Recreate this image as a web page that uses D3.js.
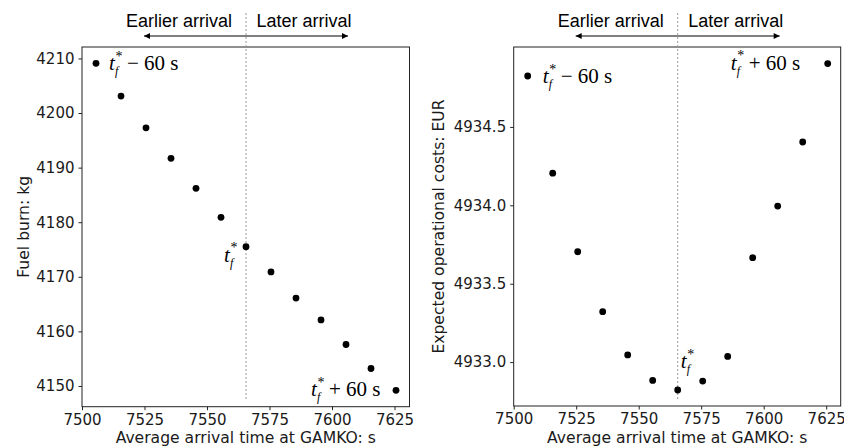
<!DOCTYPE html>
<html>
<head>
<meta charset="utf-8">
<script src="https://cdn.jsdelivr.net/npm/d3@7"></script>
<style>
  html, body { margin: 0; padding: 0; background: #fff; }
  svg { display: block; }
</style>
</head>
<body>
<svg id="chart" width="844" height="447"></svg>
<script>
// Average arrival time at GAMKO (s) for each shifted target time
const arrivalTimes = [7505.6, 7515.6, 7525.6, 7535.6, 7545.6, 7555.6, 7565.6,
                      7575.6, 7585.6, 7595.6, 7605.6, 7615.6, 7625.6];
// Fuel burn (kg)
const fuelBurn = [4209.1, 4203.1, 4197.3, 4191.7, 4186.2, 4180.9, 4175.5,
                  4170.9, 4166.1, 4162.1, 4157.6, 4153.2, 4149.2];
// Expected operational costs (EUR)
const opCosts = [4934.825, 4934.205, 4933.704, 4933.322, 4933.046, 4932.883, 4932.822,
                 4932.879, 4933.036, 4933.666, 4933.995, 4934.404, 4934.904];
const tfStar = 7565.6;

const xTicks = [7500, 7525, 7550, 7575, 7600, 7625];
const fuelTicks = [4150, 4160, 4170, 4180, 4190, 4200, 4210];
const costTicks = [4933.0, 4933.5, 4934.0, 4934.5];

const svg = d3.select("#chart");
const sansFont = "DejaVu Sans, sans-serif";
const mathFont = "Liberation Serif, serif";
const annFont = "Liberation Sans, Arial, sans-serif";

// arrowhead marker
const defs = svg.append("defs");
defs.append("marker")
  .attr("id", "arrowhead")
  .attr("viewBox", "0 0 10 10")
  .attr("refX", 10).attr("refY", 5)
  .attr("markerWidth", 7).attr("markerHeight", 6)
  .attr("markerUnits", "userSpaceOnUse")
  .attr("orient", "auto-start-reverse")
  .append("path").attr("d", "M0,0 L10,5 L0,10 z").attr("fill", "#000");

// math-style label: t with subscript f and superscript *, then optional text
function mathLabel(g, x, y, rest) {
  const base = g.append("g").attr("font-family", mathFont).attr("fill", "#000");
  base.append("text").attr("x", x).attr("y", y)
    .attr("font-size", 21).attr("font-style", "italic").text("t");
  base.append("text").attr("x", x + 6.5).attr("y", y - 9.5)
    .attr("font-size", 14).text("*");
  base.append("text").attr("x", x + 6).attr("y", y + 5)
    .attr("font-size", 12).attr("font-style", "italic").text("f");
  if (rest) {
    base.append("text").attr("x", x + 18).attr("y", y)
      .attr("font-size", 21).attr("xml:space", "preserve")
      .style("white-space", "pre").text(rest);
  }
}

function panel(cfg) {
  const g = svg.append("g");
  const x = d3.scaleLinear().domain(cfg.xDomain).range([cfg.left, cfg.right]);
  const y = d3.scaleLinear().domain(cfg.yDomain).range([cfg.bottom, cfg.top]);

  // axes
  const xAxis = d3.axisBottom(x).tickValues(xTicks).tickFormat(d3.format("d"))
    .tickSizeInner(3.5).tickSizeOuter(0).tickPadding(4);
  const yAxis = d3.axisLeft(y).tickValues(cfg.yTicks).tickFormat(cfg.yFormat)
    .tickSizeInner(3.5).tickSizeOuter(0).tickPadding(4);

  const gx = g.append("g").attr("transform", `translate(0,${cfg.bottom})`).call(xAxis);
  const gy = g.append("g").attr("transform", `translate(${cfg.left},0)`).call(yAxis);
  [gx, gy].forEach(a => {
    a.select(".domain").remove();
    a.selectAll("text").attr("font-family", sansFont).attr("font-size", 15).attr("fill", "#1a1a1a");
    a.selectAll("line").attr("stroke", "#222");
  });

  // frame
  g.append("rect")
    .attr("x", cfg.left).attr("y", cfg.top)
    .attr("width", cfg.right - cfg.left).attr("height", cfg.bottom - cfg.top)
    .attr("fill", "none").attr("stroke", "#222").attr("stroke-width", 1);

  // reference line at t_f*
  const xs = x(tfStar);
  g.append("line")
    .attr("x1", xs).attr("x2", xs).attr("y1", 13).attr("y2", cfg.bottom - 6)
    .attr("stroke", "#999").attr("stroke-width", 1).attr("stroke-dasharray", "2,2");

  // direction arrows
  g.append("line")
    .attr("x1", xs).attr("x2", xs - 102).attr("y1", 36).attr("y2", 36)
    .attr("stroke", "#000").attr("stroke-width", 1).attr("marker-end", "url(#arrowhead)");
  g.append("line")
    .attr("x1", xs).attr("x2", xs + 102).attr("y1", 36).attr("y2", 36)
    .attr("stroke", "#000").attr("stroke-width", 1).attr("marker-end", "url(#arrowhead)");
  g.append("text").attr("x", xs - 67).attr("y", 27)
    .attr("text-anchor", "middle").attr("font-family", annFont)
    .attr("font-size", 18).attr("fill", "#000").text("Earlier arrival");
  g.append("text").attr("x", xs + 58).attr("y", 27)
    .attr("text-anchor", "middle").attr("font-family", annFont)
    .attr("font-size", 18).attr("fill", "#000").text("Later arrival");

  // points
  g.selectAll("circle.pt")
    .data(arrivalTimes.map((t, i) => ({ t, v: cfg.values[i] })))
    .enter().append("circle").attr("class", "pt")
    .attr("cx", d => x(d.t)).attr("cy", d => y(d.v)).attr("r", 3.4)
    .attr("fill", "#000");

  // axis titles
  g.append("text")
    .attr("x", (cfg.left + cfg.right) / 2).attr("y", 443)
    .attr("text-anchor", "middle").attr("font-family", sansFont)
    .attr("font-size", 15.6).attr("fill", "#1a1a1a")
    .text("Average arrival time at GAMKO: s");
  g.append("text")
    .attr("transform", `translate(${cfg.yLabelX},${(cfg.top + cfg.bottom) / 2}) rotate(-90)`)
    .attr("text-anchor", "middle").attr("font-family", sansFont)
    .attr("font-size", 15.6).attr("fill", "#1a1a1a")
    .text(cfg.yLabel);

  return { g, x, y };
}

// Left: fuel burn
const L = panel({
  left: 82, right: 409.5, top: 47, bottom: 406.7,
  xDomain: [7500, 7631], yDomain: [4146.2, 4212.1],
  yTicks: fuelTicks, yFormat: d3.format("d"),
  values: fuelBurn, yLabel: "Fuel burn: kg", yLabelX: 29
});
{
  const n = arrivalTimes.length - 1;
  mathLabel(L.g, L.x(arrivalTimes[0]) + 13, L.y(fuelBurn[0]) + 7, "\u2212 60 s");
  mathLabel(L.g, L.x(arrivalTimes[6]) - 22, L.y(fuelBurn[6]) + 15, null);
  mathLabel(L.g, L.x(arrivalTimes[n]) - 85, L.y(fuelBurn[n]) + 6, "+ 60 s");
}

// Right: expected operational costs
const R = panel({
  left: 513.7, right: 840.7, top: 47, bottom: 406,
  xDomain: [7500, 7630.8], yDomain: [4932.72, 4935.01],
  yTicks: costTicks, yFormat: d3.format(".1f"),
  values: opCosts, yLabel: "Expected operational costs: EUR", yLabelX: 444
});
{
  const n = arrivalTimes.length - 1;
  mathLabel(R.g, R.x(arrivalTimes[0]) + 15, R.y(opCosts[0]) + 7, "\u2212 60 s");
  mathLabel(R.g, R.x(arrivalTimes[6]) + 3, R.y(opCosts[6]) - 22, null);
  mathLabel(R.g, R.x(arrivalTimes[n]) - 97, R.y(opCosts[n]) + 6, "+ 60 s");
}
</script>
</body>
</html>
